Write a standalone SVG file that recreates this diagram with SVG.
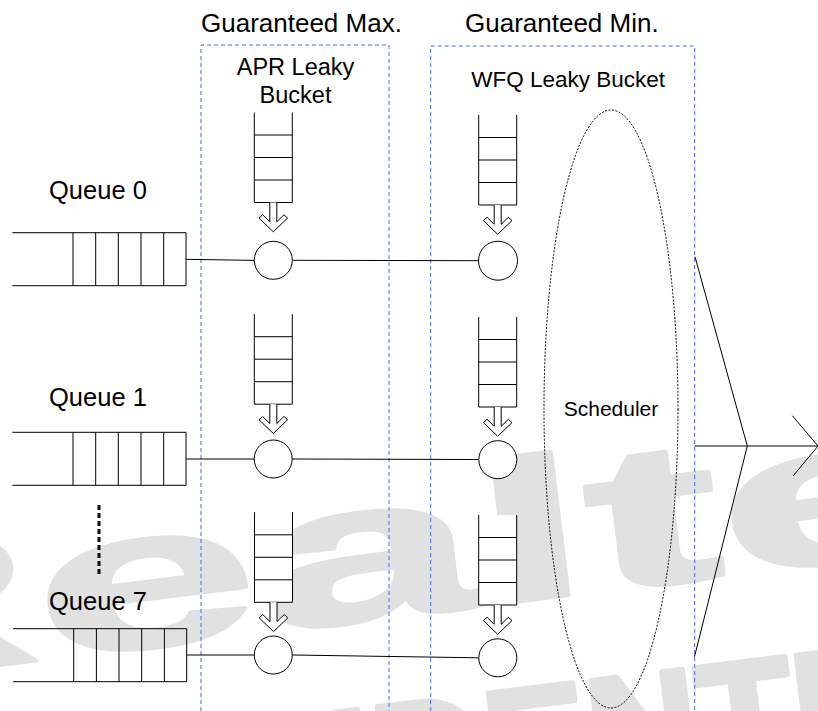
<svg xmlns="http://www.w3.org/2000/svg" xmlns:xlink="http://www.w3.org/1999/xlink" width="818" height="711" viewBox="0 0 818 711">
<style>
.t{font-family:"Liberation Sans",Arial,sans-serif;fill:#000}
.wm{font-family:"Liberation Sans",Arial,sans-serif;font-weight:bold;fill:#e1e1e1;stroke:#e1e1e1;stroke-linejoin:round}
.ln{stroke:#000;stroke-width:1;fill:none}
.sh{stroke:#000;stroke-width:1;fill:#fff}
.box{stroke:#3a6ff5;stroke-width:1;stroke-dasharray:4 3;fill:none}
</style>
<defs>
<g id="bucket">
<path class="sh" d="M-19 -90 V0 H19 V-90"/>
<path class="ln" d="M-19 -67.5 H19 M-19 -45 H19 M-19 -22.5 H19"/>
<path class="sh" d="M-3.5 0 V19.3 L-10.7 12.3 L-14.3 15.6 L0 29.3 L14.3 15.6 L10.7 12.3 L3.5 19.3 V0"/>
</g>
<path id="queue" class="ln" d="M-173.7 0 H0 V53 H-173.7 M-113 0 V53 M-90.3 0 V53 M-67.7 0 V53 M-45 0 V53 M-22.3 0 V53"/>
</defs>
<rect width="818" height="711" fill="#fff"/>
<g id="watermark">
<text class="wm" font-size="200" stroke-width="4" transform="translate(-244 695) rotate(-7) scale(2 1)">Realtek</text>
<text class="wm" font-size="155" stroke-width="6" transform="translate(-98 873) rotate(-7)">CONFIDENTIAL</text>
</g>
<g id="apr-box">
<path class="box" d="M201 711 V45 H389 V711"/>
<text class="t" x="201" y="32" font-size="26">Guaranteed Max.</text>
<text class="t" x="295.5" y="75" font-size="23.5" text-anchor="middle">APR Leaky</text>
<text class="t" x="295.5" y="103" font-size="23.5" text-anchor="middle">Bucket</text>
</g>
<g id="wfq-box">
<path class="box" d="M430.7 711 V46 H694.7 V711"/>
<text class="t" x="465" y="32" font-size="26">Guaranteed Min.</text>
<text class="t" x="568.2" y="86.5" font-size="22.5" text-anchor="middle">WFQ Leaky Bucket</text>
</g>
<g id="connectors">
<path class="ln" d="M186 259.3 L254.3 260.4"/>
<path class="ln" d="M292.3 260.3 L478.5 260.7"/>
<path class="ln" d="M186 459 L254 459"/>
<path class="ln" d="M292 459 L478.3 459.5"/>
<path class="ln" d="M186.7 655 L254.5 655"/>
<path class="ln" d="M292.3 655 L478.3 657.8"/>
<path class="ln" d="M695 256.7 L747.3 446 L694.5 656.7"/>
<path class="ln" d="M694.5 446 H817" stroke="#555" stroke-width="1.5"/>
<path class="ln" d="M792.3 415.7 L818 446 L793.3 475.7"/>
</g>
<g id="queue0">
<text class="t" x="49" y="198.5" font-size="25.5">Queue 0</text>
<use xlink:href="#queue" href="#queue" transform="translate(186 232.7)"/>
</g>
<g id="queue1">
<text class="t" x="49" y="406" font-size="25.5">Queue 1</text>
<use xlink:href="#queue" href="#queue" transform="translate(186 432.3)"/>
</g>
<g id="ellipsis">
<path d="M99 505 V577" stroke="#000" stroke-width="3" stroke-dasharray="5 3" fill="none"/>
</g>
<g id="queue7">
<text class="t" x="49" y="609.5" font-size="25.5">Queue 7</text>
<use xlink:href="#queue" href="#queue" transform="translate(186.7 628.7)"/>
</g>
<g id="apr0">
<use xlink:href="#bucket" href="#bucket" transform="translate(273.3 202.5)"/>
<circle class="sh" cx="273.3" cy="260.3" r="19"/>
</g>
<g id="apr1">
<use xlink:href="#bucket" href="#bucket" transform="translate(273.3 404.2)"/>
<circle class="sh" cx="273.2" cy="459" r="19"/>
</g>
<g id="apr7">
<use xlink:href="#bucket" href="#bucket" transform="translate(273.5 602.3)"/>
<circle class="sh" cx="273.3" cy="655" r="19"/>
</g>
<g id="wfq0">
<use xlink:href="#bucket" href="#bucket" transform="translate(497.7 205)"/>
<circle class="sh" cx="498" cy="260.7" r="19.5"/>
</g>
<g id="wfq1">
<use xlink:href="#bucket" href="#bucket" transform="translate(497.7 407)"/>
<circle class="sh" cx="497.8" cy="459.7" r="19"/>
</g>
<g id="wfq7">
<use xlink:href="#bucket" href="#bucket" transform="translate(497.7 605)"/>
<circle class="sh" cx="497.8" cy="657.8" r="19"/>
</g>
<g id="scheduler">
<ellipse cx="611" cy="409" rx="67" ry="299" fill="none" stroke="#000" stroke-width="1" stroke-dasharray="2 1.5"/>
<text class="t" x="611" y="416" font-size="21" text-anchor="middle">Scheduler</text>
</g>
</svg>
